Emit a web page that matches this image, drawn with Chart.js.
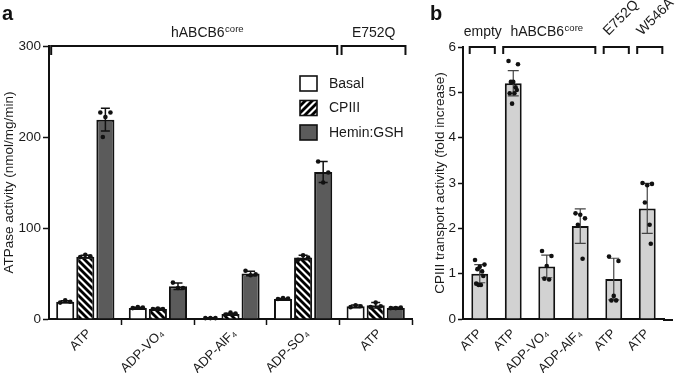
<!DOCTYPE html>
<html><head><meta charset="utf-8">
<script src="https://cdn.jsdelivr.net/npm/chart.js@4.4.1/dist/chart.umd.min.js"></script>
<style>
html,body{margin:0;padding:0;background:#fff;}
#wrap{position:relative;width:675px;height:373px;overflow:hidden;background:#fff;}
.box{position:absolute;top:0;height:373px;}
</style></head><body>
<div id="wrap">
  <div class="box" style="left:0;width:430px;"><canvas id="ca"></canvas></div>
  <div class="box" style="left:430px;width:245px;"><canvas id="cb"></canvas></div>
</div>
<script>
// ---------- Panel a data ----------
const catsA = ['ATP', 'ADP-VO₄', 'ADP-AlF₄', 'ADP-SO₄', 'ATP'];
const seriesA = ['Basal', 'CPIII', 'Hemin:GSH'];
const basalMean = [19, 12, 1, 22, 14];
const cpiiiMean = [68.5, 11, 5.5, 67.5, 15];
const heminMean = [219, 36, 50, 161.5, 12];
const basalSD = [1, 0.8, 0.3, 0.6, 1.5];
const cpiiiSD = [1.5, 0.8, 0.8, 2.5, 3];
const heminSD = [12.5, 3.5, 2.5, 11.5, 1];
const basalPts = [[18, 19, 20.5], [12, 12.5, 13], [1, 1, 1], [22, 22.5, 23], [13, 14, 15]];
const cpiiiPts = [[68, 69, 70.5], [11, 11, 11.5], [5, 6, 7], [65, 67.5, 70], [13, 14, 18]];
const heminPts = [[227, 227, 222, 200], [40, 34, 34], [53, 49, 48], [173, 161, 150], [12, 12.5, 12]];
const groupsA = ['hABCB6', 'E752Q'];
const groupSupA = ['core', ''];
const groupFromA = [0, 4];
const groupToA = [3, 4];
const yTicksA = [0, 100, 200, 300];

// ---------- Panel b data ----------
const catsB = ['ATP', 'ATP', 'ADP-VO₄', 'ADP-AlF₄', 'ATP', 'ATP'];
const meanB = [1.0, 5.2, 1.16, 2.05, 0.88, 2.44];
const sdB = [0.2, 0.28, 0.25, 0.38, 0.46, 0.55];
const ptsB = [
  [1.3, 1.2, 1.15, 1.1, 1.05, 0.95, 0.78, 0.75, 0.75],
  [5.69, 5.62, 5.23, 5.23, 5.11, 5.05, 4.98, 4.98, 4.75],
  [1.5, 1.39, 1.17, 0.89, 0.87],
  [2.33, 2.22, 2.3, 2.08, 1.33],
  [1.38, 1.28, 0.51, 0.41, 0.41],
  [3.0, 2.98, 2.95, 2.57, 2.08, 1.66]
];
const groupsB = ['empty', 'hABCB6', 'E752Q', 'W546A'];
const groupSupB = ['', 'core', '', ''];
const groupFromB = [0, 1, 4, 5];
const groupToB = [0, 3, 4, 5];
const groupRotB = [false, false, true, true];
const yTicksB = [0, 1, 2, 3, 4, 5, 6];

// ---------- styles ----------
const FONT = '"Liberation Sans", Arial, Helvetica, sans-serif';
const TXT = '#1a1a1a';
Chart.defaults.font.family = FONT;
Chart.defaults.color = TXT;

function hatch(dir) {
  const s = 7;
  const c = document.createElement('canvas');
  c.width = s; c.height = s;
  const g = c.getContext('2d');
  g.fillStyle = '#fff'; g.fillRect(0, 0, s, s);
  g.strokeStyle = '#000'; g.lineWidth = 2.8;
  for (const k of [-s, 0, s]) {
    g.beginPath();
    if (dir === 'down') { g.moveTo(k - 1, -1); g.lineTo(k + s + 1, s + 1); }
    else { g.moveTo(k - 1, s + 1); g.lineTo(k + s + 1, -1); }
    g.stroke();
  }
  return g.createPattern(c, 'repeat');
}
const hatchBar = hatch('down');
const hatchLegend = hatch('up');
const HEMIN = '#5b5b5b';
const GRAYB = '#d2d2d2';

const JIT = [-0.28, 0.28, 0, -0.14, 0.14, 0.21, -0.21, 0.07, -0.07];

function errAndDots(chart, means, sds, pts, o) {
  const ctx = chart.ctx, ys = chart.scales.y;
  means.forEach((arr, d) => {
    const meta = chart.getDatasetMeta(d);
    meta.data.forEach((bar, i) => {
      const x = bar.x, w = bar.width;
      const m = arr[i], s = sds[d][i];
      const yT = ys.getPixelForValue(m + s), yB = ys.getPixelForValue(Math.max(0, m - s));
      ctx.save();
      ctx.strokeStyle = o.errColor; ctx.lineWidth = o.errWidth;
      ctx.beginPath();
      ctx.moveTo(x, yT); ctx.lineTo(x, yB);
      ctx.moveTo(x - o.cap / 2, yT); ctx.lineTo(x + o.cap / 2, yT);
      ctx.moveTo(x - o.cap / 2, yB); ctx.lineTo(x + o.cap / 2, yB);
      ctx.stroke();
      ctx.fillStyle = '#111';
      pts[d][i].forEach((v, k) => {
        ctx.beginPath();
        ctx.arc(x + JIT[k % JIT.length] * w, ys.getPixelForValue(v), o.r, 0, Math.PI * 2);
        ctx.fill();
      });
      ctx.restore();
    });
  });
}

function bracket(ctx, x1, x2, y, drop) {
  ctx.save();
  ctx.strokeStyle = '#111'; ctx.lineWidth = 2; ctx.lineJoin = 'miter';
  ctx.beginPath();
  ctx.moveTo(x1, y + drop); ctx.lineTo(x1, y); ctx.lineTo(x2, y); ctx.lineTo(x2, y + drop);
  ctx.stroke();
  ctx.restore();
}

function supText(ctx, main, sup, cx, y, size) {
  ctx.save();
  ctx.fillStyle = TXT; ctx.textAlign = 'left'; ctx.textBaseline = 'alphabetic';
  ctx.font = size + 'px ' + FONT;
  const w1 = ctx.measureText(main).width;
  const ss = size * 0.68;
  ctx.font = ss + 'px ' + FONT;
  const w2 = sup ? ctx.measureText(sup).width + 0.5 : 0;
  const x0 = cx - (w1 + w2) / 2;
  ctx.font = size + 'px ' + FONT;
  ctx.fillText(main, x0, y);
  if (sup) { ctx.font = ss + 'px ' + FONT; ctx.fillText(sup, x0 + w1 + 0.5, y - size * 0.36); }
  ctx.restore();
}

function panelLetter(ctx, t, x, y) {
  ctx.save();
  ctx.fillStyle = '#111'; ctx.font = 'bold 20px ' + FONT;
  ctx.textAlign = 'left'; ctx.textBaseline = 'alphabetic';
  ctx.fillText(t, x, y);
  ctx.restore();
}

// ---------- Panel a ----------
const decorA = {
  id: 'decorA',
  afterDatasetsDraw(chart) {
    const ctx = chart.ctx, xs = chart.scales.x, ca = chart.chartArea;
    errAndDots(chart, [basalMean, cpiiiMean, heminMean], [basalSD, cpiiiSD, heminSD],
      [basalPts, cpiiiPts, heminPts], { errColor: '#111', errWidth: 1.5, cap: 9, r: 2.3 });
    const w = xs.getPixelForValue(1) - xs.getPixelForValue(0);
    groupsA.forEach((g, j) => {
      const last = groupToA[j] === catsA.length - 1;
      const x1 = xs.getPixelForValue(groupFromA[j]) - 0.47 * w;
      const x2 = xs.getPixelForValue(groupToA[j]) + (last ? 0.41 : 0.47) * w;
      bracket(ctx, x1, x2, ca.top, 9);
      const cx = last ? (xs.getPixelForValue(groupFromA[j]) - 2) :
        xs.getPixelForValue(groupFromA[j] + (groupToA[j] - groupFromA[j]) * 0.56);
      supText(ctx, g, groupSupA[j], cx, ca.top - 9, 14);
    });
    // legend
    const lx = ca.left + 251, ly = ca.top + 30;
    const fills = [chart.data.datasets[0].backgroundColor, hatchLegend, chart.data.datasets[2].backgroundColor];
    ctx.save();
    seriesA.forEach((s, i) => {
      const y = ly + i * 24.5;
      ctx.fillStyle = fills[i];
      ctx.fillRect(lx, y, 17, 15);
      ctx.strokeStyle = '#111'; ctx.lineWidth = 1.6;
      ctx.strokeRect(lx, y, 17, 15);
      ctx.fillStyle = TXT; ctx.font = '14px ' + FONT;
      ctx.textAlign = 'left'; ctx.textBaseline = 'middle';
      ctx.fillText(s, lx + 29, y + 8);
    });
    ctx.restore();
    panelLetter(ctx, 'a', 2, 20);
  }
};

new Chart(document.getElementById('ca'), {
  type: 'bar',
  data: {
    labels: catsA,
    datasets: [
      { label: seriesA[0], data: basalMean, backgroundColor: '#ffffff', borderColor: '#111', borderWidth: 2 },
      { label: seriesA[1], data: cpiiiMean, backgroundColor: hatchBar, borderColor: '#111', borderWidth: 2 },
      { label: seriesA[2], data: heminMean, backgroundColor: HEMIN, borderColor: '#111', borderWidth: 2 }
    ]
  },
  options: {
    responsive: true, maintainAspectRatio: false, animation: false,
    layout: { padding: { left: 0, top: 46, right: 18, bottom: 0 } },
    datasets: { bar: { categoryPercentage: 0.83, barPercentage: 0.9 } },
    plugins: { legend: { display: false }, tooltip: { enabled: false } },
    scales: {
      x: {
        grid: { display: true, drawOnChartArea: false, drawTicks: true, tickLength: 6, tickWidth: 1.5,
          tickColor: c => (c.index === 0 || c.index === catsA.length) ? 'rgba(0,0,0,0)' : '#111' },
        border: { display: true, color: '#111', width: 2 },
        ticks: { maxRotation: 45, minRotation: 45, autoSkip: false, padding: 1, labelOffset: 4, color: TXT, font: { size: 13 } },
        afterFit: s => { s.height = 54; }
      },
      y: {
        min: 0, max: 300,
        afterBuildTicks: s => { s.ticks = yTicksA.map(v => ({ value: v })); },
        ticks: { padding: 2, color: TXT, font: { size: 13.5 } },
        grid: { drawOnChartArea: false, drawTicks: true, tickLength: 6, tickWidth: 1.5, tickColor: '#111' },
        border: { display: true, color: '#111', width: 2 },
        title: { display: true, text: 'ATPase activity (nmol/mg/min)', color: TXT, font: { size: 13.5 }, padding: { top: 1, bottom: 0 } },
        afterFit: s => { s.width = 49; }
      }
    }
  },
  plugins: [decorA]
});

// ---------- Panel b ----------
const decorB = {
  id: 'decorB',
  afterDatasetsDraw(chart) {
    const ctx = chart.ctx, xs = chart.scales.x, ca = chart.chartArea;
    errAndDots(chart, [meanB], [sdB], [ptsB], { errColor: '#444', errWidth: 1.2, cap: 11, r: 2.3 });
    // extend x axis line
    ctx.save(); ctx.strokeStyle = '#111'; ctx.lineWidth = 2;
    ctx.beginPath(); ctx.moveTo(ca.right - 1, ca.bottom + 1); ctx.lineTo(chart.width - 2, ca.bottom + 1); ctx.stroke();
    ctx.restore();
    const w = xs.getPixelForValue(1) - xs.getPixelForValue(0);
    groupsB.forEach((g, j) => {
      const x1 = xs.getPixelForValue(groupFromB[j]) - 0.3 * w;
      const x2 = xs.getPixelForValue(groupToB[j]) + 0.45 * w;
      bracket(ctx, x1, x2, ca.top, 7);
      if (groupRotB[j]) {
        ctx.save();
        ctx.fillStyle = TXT; ctx.font = '14px ' + FONT;
        ctx.textAlign = 'left'; ctx.textBaseline = 'alphabetic';
        ctx.translate(xs.getPixelForValue(groupFromB[j]) - 0.16 * w, ca.top - 11);
        ctx.rotate(-Math.PI / 4);
        ctx.fillText(g, 0, 0);
        ctx.restore();
      } else {
        const cx = xs.getPixelForValue((groupFromB[j] + groupToB[j]) / 2) + (j === 0 ? 3 : 0);
        supText(ctx, g, groupSupB[j], cx, ca.top - 11, 14);
      }
    });
    panelLetter(ctx, 'b', 0, 20);
  }
};

new Chart(document.getElementById('cb'), {
  type: 'bar',
  data: {
    labels: catsB,
    datasets: [
      { label: 'CPIII transport', data: meanB, backgroundColor: GRAYB, borderColor: '#111', borderWidth: 2 }
    ]
  },
  options: {
    responsive: true, maintainAspectRatio: false, animation: false,
    layout: { padding: { left: 0, top: 47, right: 11, bottom: 0 } },
    datasets: { bar: { categoryPercentage: 0.56, barPercentage: 0.9 } },
    plugins: { legend: { display: false }, tooltip: { enabled: false } },
    scales: {
      x: {
        grid: { display: true, drawOnChartArea: false, drawTicks: true, tickLength: 6, tickColor: 'rgba(0,0,0,0)' },
        border: { display: true, color: '#111', width: 2 },
        ticks: { maxRotation: 45, minRotation: 45, autoSkip: false, padding: 1, color: TXT, font: { size: 13 } },
        afterFit: s => { s.height = 54; }
      },
      y: {
        min: 0, max: 6,
        afterBuildTicks: s => { s.ticks = yTicksB.map(v => ({ value: v })); },
        ticks: { padding: 2, color: TXT, font: { size: 13.5 } },
        grid: { drawOnChartArea: false, drawTicks: true, tickLength: 5, tickWidth: 1.5, tickColor: '#111' },
        border: { display: true, color: '#111', width: 2 },
        title: { display: true, text: 'CPIII transport activity (fold increase)', color: TXT, font: { size: 13.5 }, padding: { top: 2, bottom: 0 } },
        afterFit: s => { s.width = 33; }
      }
    }
  },
  plugins: [decorB]
});
</script>
</body></html>
